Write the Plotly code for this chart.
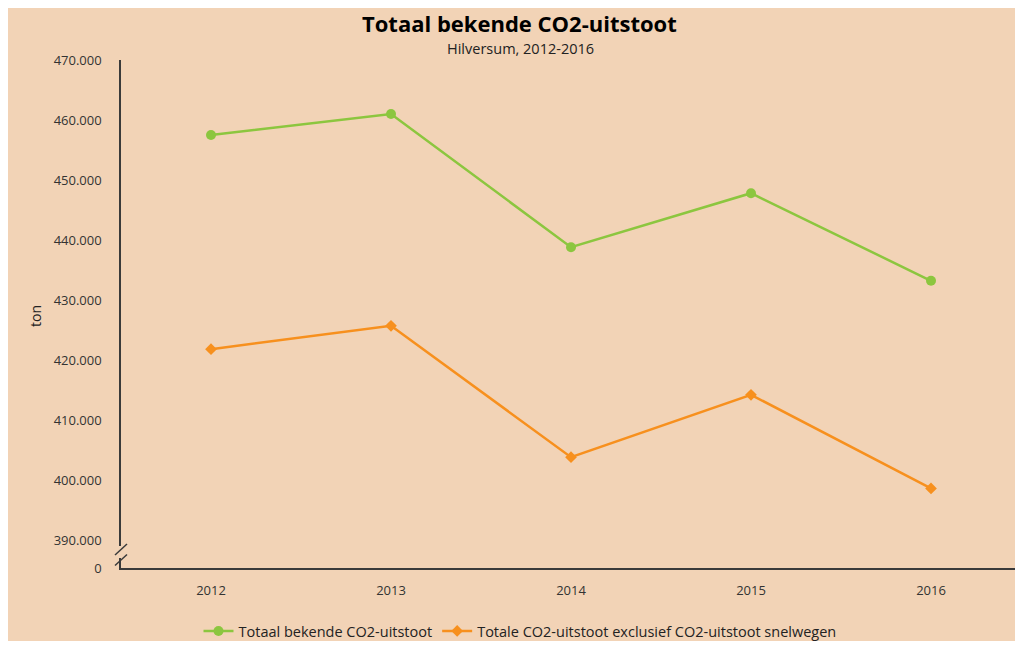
import plotly.graph_objects as go

years = ["2012", "2013", "2014", "2015", "2016"]
totaal = [457500, 461000, 438800, 447800, 433200]
exclusief = [421800, 425700, 403800, 414200, 398600]
name_totaal = "Totaal bekende CO2-uitstoot"
name_excl = "Totale CO2-uitstoot exclusief CO2-uitstoot snelwegen"
tick_vals = [385333, 390000, 400000, 410000, 420000, 430000, 440000, 450000, 460000, 470000]
tick_text = ["0", "390.000", "400.000", "410.000", "420.000", "430.000", "440.000", "450.000", "460.000", "470.000"]

BG = "#f2d3b6"
GREEN = "#8cc63f"
ORANGE = "#f7901e"
AX = "#3a3a3a"
FONT = "Open Sans"

fig = go.Figure()
fig.add_trace(go.Scatter(x=years, y=totaal, name=name_totaal, mode="lines+markers",
                         line=dict(color=GREEN, width=2.5),
                         marker=dict(symbol="circle", size=10, color=GREEN)))
fig.add_trace(go.Scatter(x=years, y=exclusief, name=name_excl, mode="lines+markers",
                         line=dict(color=ORANGE, width=2.5),
                         marker=dict(symbol="diamond", size=9, color=ORANGE)))

OFF = 8  # page body margin
W, H = 1007, 633
L, T = 121 - OFF, 60 - OFF
pw = W - L
ph = 508
R = 0
B = H - T - ph
CAT = 180.0  # pixel spacing between categories in the reference

def px(x):
    return (x - OFF - L) / pw

def py(y):
    return (T + ph - (y - OFF)) / ph

shapes = [
    # mask for axis break
    dict(type="rect", xref="paper", yref="paper", x0=px(118), x1=px(124), y0=py(558), y1=py(546),
         fillcolor=BG, line=dict(width=0), layer="above"),
    dict(type="line", xref="paper", yref="paper", x0=px(115), x1=px(127), y0=py(555), y1=py(544),
         line=dict(color=AX, width=1.5), layer="above"),
    dict(type="line", xref="paper", yref="paper", x0=px(115), x1=px(127), y0=py(565.5), y1=py(554.5),
         line=dict(color=AX, width=1.5), layer="above"),
]

annotations = [
    dict(text="<b>Totaal bekende CO2-uitstoot</b>", xref="paper", yref="paper", x=px(519), y=py(23),
         xanchor="center", yanchor="middle", showarrow=False, borderpad=0,
         font=dict(family=FONT, size=22, color="#000000")),
    dict(text="Hilversum, 2012-2016", xref="paper", yref="paper", x=px(520), y=py(48),
         xanchor="center", yanchor="middle", showarrow=False,
         font=dict(family=FONT, size=14.5, color="#222222")),
    dict(text="ton", xref="paper", yref="paper", x=px(35), y=py(316), textangle=-90,
         xanchor="center", yanchor="middle", showarrow=False,
         font=dict(family=FONT, size=14, color="#222222")),
]

fig.update_layout(
    width=W, height=H,
    margin=dict(l=L, r=R, t=T, b=B, pad=0, autoexpand=False),
    paper_bgcolor=BG, plot_bgcolor=BG,
    font=dict(family=FONT, size=13, color="#333333"),
    showlegend=True,
    legend=dict(orientation="h", x=px(520), y=py(631), xanchor="center", yanchor="middle",
                bgcolor="rgba(0,0,0,0)", font=dict(family=FONT, size=14.5, color="#222222"),
                itemwidth=30),
    shapes=shapes,
    annotations=annotations,
    xaxis=dict(type="category", range=[-0.5, -0.5 + pw / CAT], showgrid=False, zeroline=False,
               showline=True, linecolor=AX, linewidth=1.5, ticks="", ticklabelstandoff=10,
               tickfont=dict(family=FONT, size=13, color="#333333")),
    yaxis=dict(range=[385333, 470000], tickvals=tick_vals, ticktext=tick_text, showgrid=False,
               zeroline=False, showline=True, linecolor=AX, linewidth=1.5, ticks="",
               ticklabelstandoff=15, tickfont=dict(family=FONT, size=13, color="#333333")),
)

fig.write_html("out.html")
